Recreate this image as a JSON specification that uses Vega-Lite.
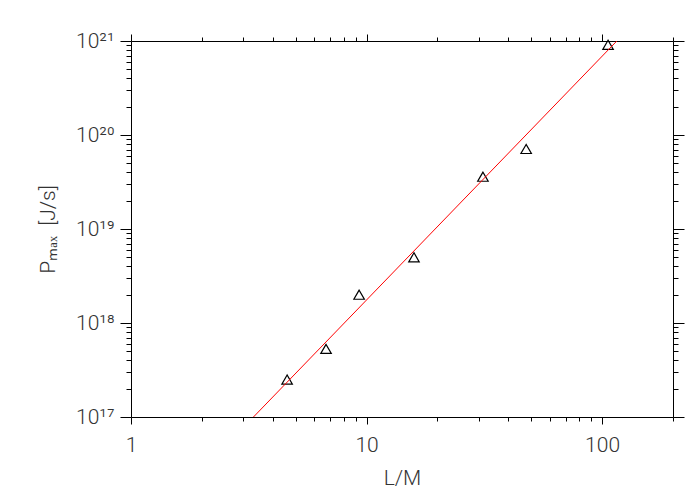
{
  "$schema": "https://vega.github.io/schema/vega-lite/v6.json",
  "width": 542,
  "height": 376,
  "autosize": "none",
  "padding": {"left": 131, "top": 41, "right": 27, "bottom": 83},
  "background": "white",
  "config": {
    "view": {"stroke": null},
    "axis": {
      "grid": false,
      "domainColor": "#000000",
      "domainWidth": 1,
      "tickColor": "#000000",
      "tickWidth": 1,
      "labelColor": "#333333",
      "labelFont": "Roboto",
      "labelFontSize": 21,
      "labelFontWeight": 300,
      "titleColor": "#333333",
      "titleFont": "Roboto",
      "titleFontSize": 21,
      "titleFontWeight": 300,
      "labelOverlap": false,
      "labelFlush": false,
      "labelBound": false
    }
  },
  "datasets": {
    "points": [
      {"L_M": 4.6, "P_max": 2.5e17},
      {"L_M": 6.73, "P_max": 5.3e17},
      {"L_M": 9.3, "P_max": 2.0e18},
      {"L_M": 15.9, "P_max": 5.0e18},
      {"L_M": 31.2, "P_max": 3.6e19},
      {"L_M": 47.6, "P_max": 7.1e19},
      {"L_M": 106, "P_max": 9.1e20}
    ],
    "fit": [
      {"L_M": 3.31, "P_max": 1e17},
      {"L_M": 115.5, "P_max": 1e21}
    ]
  },
  "layer": [
    {
      "data": {"name": "points"},
      "mark": {"type": "point", "shape": "triangle-up", "filled": false, "stroke": "#000000", "strokeWidth": 1.2, "size": 110, "opacity": 1},
      "encoding": {
        "x": {
          "field": "L_M", "type": "quantitative",
          "scale": {"type": "log", "domain": [1, 200], "nice": false},
          "axis": {
            "orient": "bottom",
            "title": "L/M",
            "titlePadding": 12,
            "values": [1,2,3,4,5,6,7,8,9,10,20,30,40,50,60,70,80,90,100,200],
            "labelExpr": "datum.value==1?'1':datum.value==10?'10':datum.value==100?'100':''",
            "tickSize": {"condition": {"test": "datum.value==1||datum.value==10||datum.value==100", "value": 7}, "value": 4},
            "labelPadding": 10
          }
        },
        "y": {
          "field": "P_max", "type": "quantitative",
          "scale": {"type": "log", "domain": [1e17, 1e21], "nice": false},
          "axis": {
            "orient": "left",
            "title": "Pₘₐₓ\u00a0\u00a0[J/s]",
            "titlePadding": 17,
            "values": [1e17,2e17,3e17,4e17,5e17,6e17,7e17,8e17,9e17,1e18,2e18,3e18,4e18,5e18,6e18,7e18,8e18,9e18,1e19,2e19,3e19,4e19,5e19,6e19,7e19,8e19,9e19,1e20,2e20,3e20,4e20,5e20,6e20,7e20,8e20,9e20,1e21],
            "labelExpr": "datum.value==1e17?'10¹⁷':datum.value==1e18?'10¹⁸':datum.value==1e19?'10¹⁹':datum.value==1e20?'10²⁰':datum.value==1e21?'10²¹':''",
            "tickSize": {"condition": {"test": "datum.value==1e17||datum.value==1e18||datum.value==1e19||datum.value==1e20||datum.value==1e21", "value": 11}, "value": 5},
            "labelPadding": 6
          }
        }
      }
    },
    {
      "data": {"name": "fit"},
      "mark": {"type": "line", "color": "#ff0000", "strokeWidth": 1, "clip": true},
      "encoding": {
        "x": {
          "field": "L_M", "type": "quantitative",
          "axis": {
            "orient": "top",
            "title": null,
            "labels": false,
            "values": [1,2,3,4,5,6,7,8,9,10,20,30,40,50,60,70,80,90,100,200],
            "tickSize": {"condition": {"test": "datum.value==1||datum.value==10||datum.value==100", "value": 7}, "value": 4}
          }
        },
        "y": {
          "field": "P_max", "type": "quantitative",
          "axis": {
            "orient": "right",
            "title": null,
            "labels": false,
            "values": [1e17,2e17,3e17,4e17,5e17,6e17,7e17,8e17,9e17,1e18,2e18,3e18,4e18,5e18,6e18,7e18,8e18,9e18,1e19,2e19,3e19,4e19,5e19,6e19,7e19,8e19,9e19,1e20,2e20,3e20,4e20,5e20,6e20,7e20,8e20,9e20,1e21],
            "tickSize": {"condition": {"test": "datum.value==1e17||datum.value==1e18||datum.value==1e19||datum.value==1e20||datum.value==1e21", "value": 11}, "value": 5}
          }
        }
      }
    }
  ],
  "resolve": {"axis": {"x": "independent", "y": "independent"}}
}
